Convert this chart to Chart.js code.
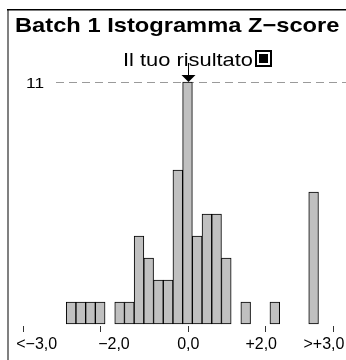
<!DOCTYPE html>
<html lang="it">
<head>
  <meta charset="UTF-8">
  <title>Batch 1 Istogramma Z-score</title>
  <script src="https://cdn.jsdelivr.net/npm/chart.js"></script>
  <style>
    html, body {
      margin: 0;
      padding: 0;
      background: #ffffff;
    }
    #wrap {
      width: 346px;
      height: 360px;
    }
  </style>
</head>
<body>
  <div id="wrap"><canvas id="chart" width="346" height="360"></canvas></div>

  <script>
  // istogramma: indice del bin rispetto al bin che contiene 0,0
  const bins   = [-12, -11, -10, -9, -8, -7, -6, -5, -4, -3, -2, -1, 0, 1, 2, 3, 4, 5, 6, 7, 8, 9, 10, 11, 12, 13];
  const counts = [  1,   1,   1,  1,  0,  1,  1,  4,  3,  2,  2,  7, 11, 4, 5, 5, 3, 0, 1, 0, 0, 1,  0,  0,  0,  6];

  // bin del risultato personale (freccia) e valore della linea tratteggiata
  const tuoBin = 0;
  const rifCount = 11;

  // asse x: tacche e etichette (in unita' di bin)
  const tickBins   = [-16.96, -9.07, 0, 7.94, 15.0];
  const labelBins  = [-15.55, -7.58, 0.08, 7.6, 14.07];
  const tickLabels = ['<\u22123,0', '\u22122,0', '0,0', '+2,0', '>+3,0'];

  const titolo = 'Batch 1 Istogramma Z\u2212score';
  const legenda = 'Il tuo risultato';

  const FONT = "'Liberation Sans', Arial, sans-serif";
  const SX = 1.15;

  function testo(ctx, t, x, y, font, align, sx) {
    ctx.save();
    ctx.font = font;
    ctx.textAlign = align || 'left';
    ctx.textBaseline = 'alphabetic';
    ctx.translate(x, y);
    ctx.scale(sx || SX, 1);
    ctx.fillText(t, 0, 0);
    ctx.restore();
  }

  const decorazioni = {
    id: 'decorazioni',
    beforeDatasetsDraw(chart) {
      const ctx = chart.ctx;
      const yS = chart.scales.y;
      const yRif = Math.round(yS.getPixelForValue(rifCount)) + 0.5;

      // cornice
      ctx.save();
      ctx.strokeStyle = '#808080';
      ctx.lineWidth = 2;
      ctx.beginPath();
      ctx.moveTo(8, 9);
      ctx.lineTo(8, 360);
      ctx.stroke();
      ctx.strokeStyle = '#000';
      ctx.lineWidth = 1.5;
      ctx.beginPath();
      ctx.moveTo(7, 9.75);
      ctx.lineTo(346, 9.75);
      ctx.stroke();

      // linea di riferimento
      ctx.strokeStyle = '#9a9a9a';
      ctx.lineWidth = 1;
      ctx.setLineDash([8, 5]);
      ctx.beginPath();
      ctx.moveTo(56, yRif);
      ctx.lineTo(346, yRif);
      ctx.stroke();
      ctx.restore();
    },
    afterDatasetsDraw(chart) {
      const ctx = chart.ctx;
      const xS = chart.scales.x;
      const yS = chart.scales.y;
      ctx.save();
      ctx.fillStyle = '#000';

      testo(ctx, titolo, 15, 32, 'bold 20.6px ' + FONT);
      testo(ctx, legenda, 123, 66, '19px ' + FONT);

      // icona della legenda
      ctx.fillStyle = '#000';
      ctx.fillRect(255, 50, 17, 17);
      ctx.fillStyle = '#fff';
      ctx.fillRect(257, 52, 13, 13);
      ctx.fillStyle = '#000';
      ctx.fillRect(259, 54, 9, 9);

      // freccia sul risultato
      const xr = Math.round(xS.getPixelForValue(tuoBin)) + 0.5;
      const yTop = yS.getPixelForValue(counts[bins.indexOf(tuoBin)]);
      ctx.strokeStyle = '#000';
      ctx.lineWidth = 1;
      ctx.beginPath();
      ctx.moveTo(xr, 63);
      ctx.lineTo(xr, yTop - 7);
      ctx.stroke();
      ctx.beginPath();
      ctx.moveTo(xr - 7, yTop - 7);
      ctx.lineTo(xr + 7, yTop - 7);
      ctx.lineTo(xr, yTop);
      ctx.closePath();
      ctx.fill();

      // etichetta della linea di riferimento
      const yRif = yS.getPixelForValue(rifCount);
      testo(ctx, String(rifCount), 44, yRif + 6, '15px ' + FONT, 'right');

      // tacche e etichette dell'asse x
      const y0 = yS.getPixelForValue(0);
      ctx.strokeStyle = '#333';
      tickBins.forEach(b => {
        const x = Math.round(xS.getPixelForValue(b)) + 0.5;
        ctx.beginPath();
        ctx.moveTo(x, y0 + 2);
        ctx.lineTo(x, y0 + 8);
        ctx.stroke();
      });
      labelBins.forEach((b, i) => {
        testo(ctx, tickLabels[i], xS.getPixelForValue(b), y0 + 25, '16px ' + FONT, 'center', 1);
      });
      ctx.restore();
    }
  };

  const dati = bins.map((b, i) => ({ x: b, y: counts[i] > 0 ? counts[i] : null }));

  new Chart(document.getElementById('chart'), {
    type: 'bar',
    data: {
      datasets: [{
        data: dati,
        backgroundColor: '#c0c0c0',
        borderColor: '#000000',
        borderWidth: 1,
        borderSkipped: false,
        barPercentage: 1.0,
        categoryPercentage: 1.0
      }]
    },
    options: {
      responsive: false,
      animation: false,
      layout: { padding: 0 },
      plugins: {
        legend: { display: false },
        title: { display: false },
        tooltip: { enabled: false }
      },
      scales: {
        x: { type: 'linear', display: false, offset: false, min: -19.33, max: 16.34 },
        y: { display: false, min: -1.636, max: 14.727 }
      }
    },
    plugins: [decorazioni]
  });
  </script>
</body>
</html>
